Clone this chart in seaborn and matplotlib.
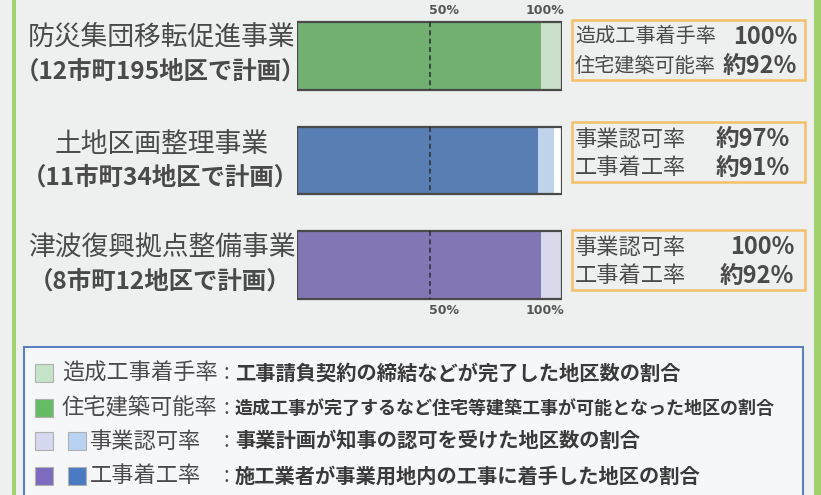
import matplotlib.pyplot as plt
import matplotlib.patches as mpatches
import seaborn as sns

# data
projects = ["防災集団移転促進事業", "土地区画整理事業", "津波復興拠点整備事業"]
plans = ["（12市町195地区で計画）", "（11市町34地区で計画）", "（8市町12地区で計画）"]
light_rate = [100, 97, 100]
dark_rate = [92, 91, 92]
light_colors = ["#c6e4c8", "#b8d3f1", "#d5d8ee"]
dark_colors = ["#66bb66", "#4a7bc2", "#7d6bbf"]

first_labels = ["造成工事着手率", "事業認可率", "事業認可率"]
first_values = ["100%", "約97%", "100%"]
second_labels = ["住宅建築可能率", "工事着工率", "工事着工率"]
second_values = ["約92%", "約91%", "約92%"]

legend_labels = ["造成工事着手率", "住宅建築可能率", "事業認可率", "工事着工率"]
legend_texts = ["工事請負契約の締結などが完了した地区数の割合",
                "造成工事が完了するなど住宅等建築工事が可能となった地区の割合",
                "事業計画が知事の認可を受けた地区数の割合",
                "施工業者が事業用地内の工事に着手した地区の割合"]
legend_swatches = [["#c6e4c8"], ["#66bb66"], ["#d5d8ee", "#b8d3f1"],
                   ["#7d6bbf", "#4a7bc2"]]

sns.set_theme(style="white")
plt.rcParams["font.family"] = ["Noto Sans CJK JP", "DejaVu Sans"]

W, H = 821, 495
fig = plt.figure(figsize=(W / 100, H / 100), dpi=100)
fig.patch.set_facecolor("#eef0ef")


def px(x, y):
    return x / W, 1 - y / H


def fig_rect(x, y, w, h, **kw):
    fig.add_artist(mpatches.Rectangle((x / W, 1 - (y + h) / H), w / W, h / H,
                                      transform=fig.transFigure, **kw))


# green side lines
fig_rect(12, 0, 4, 495, color="#9fd16c", lw=0)
fig_rect(814, 0, 7, 495, color="#9fd16c", lw=0)

# bars
ax = fig.add_axes([297 / W, 1 - 317.25 / H, 265 / W, 313.5 / H])
ax.patch.set_alpha(0)
sns.barplot(x=[100] * 3, y=projects, color="white", width=0.65,
            linewidth=0, orient="h", ax=ax)
sns.barplot(x=light_rate, y=projects, hue=projects, palette=light_colors,
            width=0.65, linewidth=0, orient="h", legend=False, ax=ax)
sns.barplot(x=dark_rate, y=projects, hue=projects, palette=dark_colors,
            width=0.65, linewidth=0, orient="h", legend=False, ax=ax)
sns.barplot(x=[100] * 3, y=projects, color="#4a4a4a", fill=False, width=0.65,
            linewidth=1.6, orient="h", ax=ax)
for i in range(len(projects)):
    ax.vlines(50, i - 0.325, i + 0.325, colors="#333333",
              linestyles=(0, (3, 2)), lw=1.2)
ax.set_xlim(0, 100)
ax.set_ylim(2.5, -0.5)
ax.set_axis_off()
for yy in (-0.44, 2.44):
    ax.text(50, yy, "50%", ha="left", va="center", fontsize=9,
            color="#555555", fontweight="bold", family="DejaVu Sans")
    ax.text(101, yy, "100%", ha="right", va="center", fontsize=9,
            color="#555555", fontweight="bold", family="DejaVu Sans")

# project names
name_y = [(37, 72), (145, 178), (247, 282)]
for i, (y1, y2) in enumerate(name_y):
    fig.text(*px(162, y1), projects[i], ha="center", va="center",
             fontsize=19.3, color="#4a4a4a")
    fig.text(*px(160, y2), plans[i], ha="center", va="center",
             fontsize=17.6, color="#4a4a4a", fontweight="bold")

# rate boxes
box_y = [20, 122, 230]
val_x = [797, 790, 794]
lab_size = [14.5, 16, 16]
for i, by in enumerate(box_y):
    fig_rect(572, by, 233, 60, facecolor="none", edgecolor="#f4c06a", lw=1.8)
    for j, (lab, val) in enumerate([(first_labels[i], first_values[i]),
                                    (second_labels[i], second_values[i])]):
        yy = by + 17 + j * 29
        fig.text(*px(575, yy), lab, ha="left", va="center",
                 fontsize=lab_size[i], color="#4a4a4a")
        fig.text(*px(val_x[i], yy), val, ha="right", va="center",
                 fontsize=17, color="#4a4a4a", fontweight="bold")

# legend box
fig_rect(24, 347, 779, 160, facecolor="#f6f7f9", edgecolor="#5b80c0", lw=1.5)
row_y = [373, 408, 441, 476]
desc_size = [14.6, 13, 14.6, 14.6]
for i, ry in enumerate(row_y):
    for k, c in enumerate(legend_swatches[i]):
        fig_rect(35 + k * 33, ry - 9, 18, 18, facecolor=c,
                 edgecolor="#b0b0b0", lw=0.8)
    lx = 62 if len(legend_swatches[i]) == 1 else 90
    fig.text(*px(lx, ry), legend_labels[i], ha="left", va="center",
             fontsize=16, color="#4a4a4a")
    fig.text(*px(223, ry), ":", ha="left", va="center", fontsize=15,
             color="#4a4a4a")
    fig.text(*px(235, ry), legend_texts[i], ha="left", va="center",
             fontsize=desc_size[i], color="#3a3a3a", fontweight="bold")

fig.savefig("out.png", dpi=100, facecolor=fig.get_facecolor())
